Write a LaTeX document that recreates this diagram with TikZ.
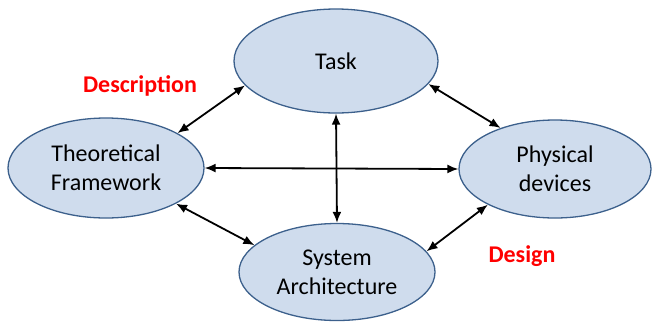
\documentclass[tikz,border=0pt]{standalone}
\usepackage{fontspec}
\setmainfont{Carlito}
\usepackage{tikz}
\usepackage{xcolor}
\usetikzlibrary{
    arrows.meta,
    shapes.geometric,
    positioning
}
\definecolor{ellfill}{RGB}{207,220,237}
\definecolor{elldraw}{RGB}{60,96,140}
\tikzset{ell/.style={ellipse, draw=elldraw, line width=1.3pt, fill=ellfill, inner sep=0pt, align=center, font=\fontsize{24}{29}\selectfont},
    dbl/.style={line width=1.8pt, {Latex[length=11pt,width=9pt]}-{Latex[length=11pt,width=9pt]}},
    redlbl/.style={text=red, font=\fontsize{24}{29}\selectfont\bfseries}}

\begin{document}
\begin{tikzpicture}[x=1pt, y=-1pt]
                        \useasboundingbox (0, 0) rectangle (652, 322);

                        \node[ell, minimum width=204pt, minimum height=104pt] (task) at (336, 61) {Task};
                        \node[ell, minimum width=196pt, minimum height=100pt] (theory) at (106, 168) {Theoretical\\Framework};
                        \node[ell, minimum width=192pt, minimum height=98pt] (devices) at (555, 169) {Physical\\devices};
                        \node[ell, minimum width=196pt, minimum height=97pt] (arch) at (337, 272) {System\\Architecture};

                        \draw[dbl] (theory.26) -- (task.195);
                        \draw[dbl] (task.346) -- (devices.143);
                        \draw[dbl] (theory.east) -- (devices.west);
                        \draw[dbl] (task.south) -- (arch.north);
                        \draw[dbl] (theory.333) -- (arch.162);
                        \draw[dbl] (devices.208) -- (arch.13);

                        \node[redlbl] (descr) at (140, 86) {Description};
                        \node[redlbl] (design) at (522, 256) {Design};
                    \end{tikzpicture}
\end{document}
